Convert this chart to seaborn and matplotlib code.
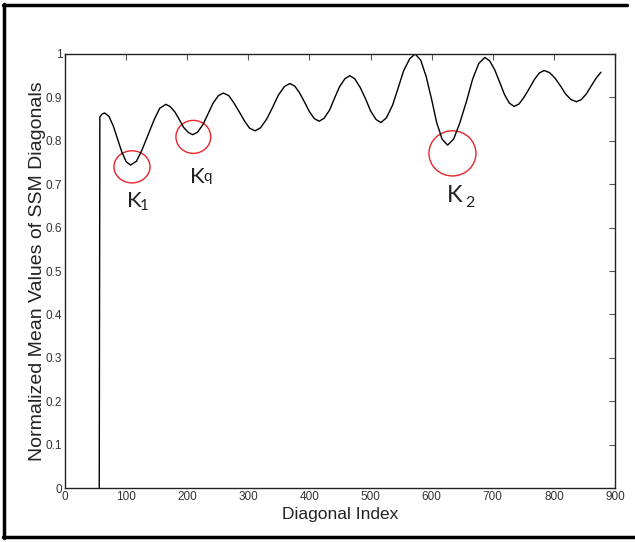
import numpy as np
import pandas as pd
import matplotlib
matplotlib.use("Agg")
import matplotlib.pyplot as plt
from matplotlib.patches import Ellipse
from matplotlib.lines import Line2D
import seaborn as sns

# values (diagonal index, normalized mean)
diag_index = [56, 57, 61, 65,
              72, 79, 86, 93, 100, 107,
              117, 126, 136, 146, 155, 165,
              172, 180, 187, 194, 202, 209,
              217, 226, 234, 242, 251, 259,
              268, 276, 285, 294, 302, 311,
              320, 330, 340, 349, 359, 368,
              376, 384, 392, 400, 408, 416,
              424, 433, 441, 449, 458, 466,
              474, 483, 492, 500, 509, 517,
              526, 536, 545, 554, 564, 573,
              582, 591, 600, 608, 617, 626,
              636, 646, 657, 667, 677, 687,
              695, 703, 711, 719, 727, 735,
              743, 751, 760, 768, 776, 784,
              793, 802, 811, 819, 828, 837,
              845, 853, 861, 869, 877]
mean_value = [0.0, 0.855, 0.862, 0.864,
              0.856, 0.834, 0.804, 0.774, 0.752, 0.744,
              0.753, 0.779, 0.814, 0.849, 0.875, 0.884,
              0.879, 0.866, 0.849, 0.831, 0.819, 0.814,
              0.820, 0.838, 0.862, 0.886, 0.904, 0.910,
              0.904, 0.888, 0.867, 0.845, 0.829, 0.823,
              0.830, 0.850, 0.878, 0.905, 0.925, 0.932,
              0.926, 0.910, 0.889, 0.867, 0.851, 0.845,
              0.852, 0.871, 0.898, 0.924, 0.943, 0.950,
              0.943, 0.923, 0.896, 0.869, 0.849, 0.842,
              0.853, 0.882, 0.921, 0.961, 0.989, 1.000,
              0.986, 0.948, 0.895, 0.843, 0.804, 0.790,
              0.804, 0.841, 0.891, 0.942, 0.978, 0.992,
              0.984, 0.964, 0.936, 0.907, 0.887, 0.879,
              0.885, 0.900, 0.921, 0.941, 0.956, 0.962,
              0.957, 0.944, 0.926, 0.908, 0.895, 0.890,
              0.895, 0.908, 0.926, 0.944, 0.958]

# marked minima: label, subscript, circle centre / size
mark_labels = ["K", "K", "K"]
mark_subs = ["1", "q", "2"]
circle_x = [109.6, 210, 634]
circle_y = [0.740, 0.809, 0.771]
circle_w = [59, 57, 77]
circle_h = [0.074, 0.076, 0.104]
label_x = [101, 204.5, 625]
label_y = [0.648, 0.703, 0.659]
sub_x = [123, 227, 655]
sub_y = [0.641, 0.707, 0.647]
label_size = [16, 16, 17]

xticks = np.arange(0, 901, 100)
yticks = np.round(np.arange(0, 1.01, 0.1), 1)

sns.set_style("white")
plt.rcParams['font.family'] = ['Liberation Sans', 'DejaVu Sans']
plt.rcParams['xtick.direction'] = 'in'
plt.rcParams['ytick.direction'] = 'in'

df = pd.DataFrame({"x": diag_index, "y": mean_value})

fig = plt.figure(figsize=(6.35, 5.42), dpi=100)
ax = fig.add_axes([0.1024, 0.0996, 0.8661, 0.8008])

sns.lineplot(data=df, x="x", y="y", ax=ax, color="black", linewidth=1.0,
             sort=False, estimator=None)

for i in range(len(mark_labels)):
    ax.add_patch(Ellipse((circle_x[i], circle_y[i]), circle_w[i], circle_h[i],
                         fill=False, edgecolor="#e8232b", linewidth=1.0))
    ax.text(label_x[i], label_y[i], mark_labels[i], fontsize=label_size[i],
            family=['Lato', 'DejaVu Sans'], color="#222222",
            ha="left", va="baseline")
    ax.text(sub_x[i], sub_y[i], mark_subs[i], fontsize=label_size[i] * 0.68,
            family=['Lato', 'DejaVu Sans'], color="#222222",
            ha="left", va="baseline")

ax.set_xlim(0, 900)
ax.set_ylim(0, 1)
ax.set_xticks(xticks)
ax.set_xticklabels([str(v) for v in xticks])
ax.set_yticks(yticks)
ax.set_yticklabels([f"{v:g}" for v in yticks])
ax.tick_params(axis="both", which="both", labelsize=8.5, length=4, width=0.8,
               color="#555555", labelcolor="#333333", top=True, right=True,
               pad=2)
for s in ax.spines.values():
    s.set_color("#222222")
    s.set_linewidth(1.0)

ax.set_xlabel("Diagonal Index", fontsize=12.5, color="#222222", labelpad=3)
ax.set_ylabel("Normalized Mean Values of SSM Diagonals", fontsize=14,
              color="#222222", labelpad=0)

# black frame around the figure (left, top, bottom)
W, H = 635, 542
fig.add_artist(Line2D([4 / W, 4 / W], [1 - 4 / H, 1 - 538 / H], color="black", linewidth=2.5))
fig.add_artist(Line2D([3 / W, 627 / W], [1 - 5 / H, 1 - 5 / H], color="black", linewidth=2.5))
fig.add_artist(Line2D([3 / W, 1.0], [1 - 537 / H, 1 - 537 / H], color="black", linewidth=2.5))

fig.savefig("out.png", dpi=100)
